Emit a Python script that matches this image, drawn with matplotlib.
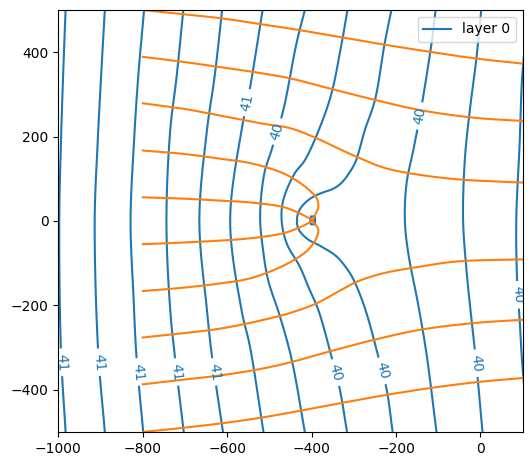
import numpy as np
import matplotlib
matplotlib.use("Agg")
import matplotlib.pyplot as plt
from matplotlib.contour import ContourSet
from matplotlib.lines import Line2D

# head contour lines, (x, y) from top to bottom
head_levels = [39.9, 40.0, 40.1, 40.2, 40.3, 40.4, 40.5, 40.6, 40.7, 40.8, 40.9, 41.0, 41.1]

well_loop = [(-403, 8), (-401, 11), (-394, 11), (-392, 8), (-392, -5), (-394, -8),
             (-401, -8), (-403, -5), (-403, 8)]
head_f = [(104, 400), (98.5, 334), (93, 184), (85, 2), (87, -140), (93, -234),
          (98.5, -329), (104, -395)]
head_e = [(2, 500), (-10, 381), (-25, 263), (-37, 144), (-41, 2), (-33, -116),
          (-21, -234), (-10, -336), (5, -500)]
head_d = [(-106, 500), (-116, 420), (-143, 251), (-159, 168), (-175, 89), (-179, 2),
          (-171, -76), (-148, -195), (-128, -313), (-104, -500)]
head_c = [(-211, 500), (-227, 420), (-250, 286), (-274, 215), (-287, 168), (-297, 138),
          (-317, 105), (-334, 86), (-352, 75), (-372, 68), (-395, 58), (-412, 46),
          (-427, 29), (-434, 10), (-432, -17), (-412, -41), (-376, -61), (-341, -84),
          (-309, -124), (-292, -158), (-270, -218), (-242, -321), (-222, -400),
          (-208, -500)]
head_b = [(-315, 500), (-329, 420), (-353, 302), (-380, 223), (-416, 144), (-440, 113),
          (-467, 50), (-471, 2), (-459, -53), (-428, -108), (-406, -160), (-384, -211),
          (-353, -321), (-333, -400), (-316, -500)]
head_a = [(-416, 500), (-436, 420), (-467, 263), (-495, 168), (-512, 113), (-522, 10),
          (-515, -69), (-503, -140), (-475, -226), (-447, -329), (-416, -500)]
head_6 = [(-516, 500), (-547, 310), (-566, 215), (-593, 0), (-566, -211), (-546, -298),
          (-514, -500)]
head_5 = [(-612, 500), (-630, 341), (-648, 215), (-666, 0), (-648, -211), (-636, -321),
          (-610, -500)]
head_4 = [(-704, 500), (-720, 341), (-735, 215), (-744, 0), (-735, -211), (-724, -321),
          (-703, -500)]
head_3 = [(-797, 500), (-811, 340), (-821, 185), (-829, 0), (-822, -180), (-815, -321),
          (-799, -500)]
head_2 = [(-890, 500), (-899, 340), (-907, 185), (-914, 0), (-906, -305), (-890, -500)]
head_1 = [(-983, 500), (-989, 340), (-994, 185), (-998, 0), (-994, -306), (-983, -500)]

head_lines = [well_loop, head_f, head_e, head_d, head_c, head_b, head_a,
              head_6, head_5, head_4, head_3, head_2, head_1]

# where the contour labels sit
label_xy = [(-546, 279), (-479, 211), (-144, 249),
            (-994, -335), (-906, -335), (-815, -358), (-722, -358), (-634, -358),
            (-350, -361), (-240, -357), (-10, -337), (88, -175)]

# particle pathlines, starting at x = -800
path_p500 = [(-800, 500), (-704, 490), (-612, 480), (-518, 466), (-451, 456), (-333, 436),
             (-222, 417), (-120, 401), (-10, 385), (100, 373)]
path_p389 = [(-800, 389), (-704, 377), (-612, 364), (-518, 350), (-451, 338), (-357, 314),
             (-254, 288), (-144, 263), (-17, 245), (100, 237)]
path_p278 = [(-800, 279), (-704, 266), (-612, 249), (-518, 231), (-451, 220), (-388, 196),
             (-333, 170), (-293, 152), (-231, 127), (-167, 113), (-57, 99), (100, 91)]
path_p167 = [(-800, 167), (-704, 159), (-612, 147), (-545, 137), (-467, 113), (-420, 85),
             (-397, 65), (-388, 54), (-384, 34), (-392, 14), (-398, 2)]
path_p56 = [(-800, 56), (-704, 53), (-612, 48), (-546, 44), (-467, 33), (-428, 18),
            (-398, 2)]
path_m56 = [(-800, -55), (-704, -51), (-610, -46), (-546, -41), (-467, -29), (-428, -15),
            (-398, 0)]
path_m167 = [(-800, -166), (-704, -158), (-610, -147), (-546, -136), (-467, -106),
             (-416, -75), (-397, -55), (-389, -41), (-384, -21), (-392, -7), (-398, 0)]
path_m278 = [(-800, -276), (-704, -266), (-610, -254), (-513, -234), (-451, -218),
             (-388, -195), (-333, -165), (-293, -144), (-231, -124), (-167, -112),
             (-57, -96), (100, -91)]
path_m389 = [(-800, -387), (-704, -376), (-610, -365), (-513, -349), (-451, -335),
             (-357, -309), (-254, -282), (-144, -258), (-17, -242), (100, -234)]
path_m500 = [(-800, -500), (-704, -490), (-610, -479), (-513, -465), (-451, -454),
             (-333, -432), (-222, -412), (-120, -396), (-10, -382), (100, -372)]

pathlines = [path_p500, path_p389, path_p278, path_p167, path_p56,
             path_m56, path_m167, path_m278, path_m389, path_m500]


def smooth(pts, n=12):
    # centripetal catmull-rom through the traced points, only for drawing
    p = np.asarray(pts, dtype=float)
    if len(p) < 3:
        return p
    ext = np.vstack([2 * p[0] - p[1], p, 2 * p[-1] - p[-2]])
    out = [p[0]]
    for i in range(1, len(ext) - 2):
        p0, p1, p2, p3 = ext[i - 1], ext[i], ext[i + 1], ext[i + 2]
        t0 = 0.0
        t1 = t0 + np.linalg.norm(p1 - p0) ** 0.5 + 1e-9
        t2 = t1 + np.linalg.norm(p2 - p1) ** 0.5 + 1e-9
        t3 = t2 + np.linalg.norm(p3 - p2) ** 0.5 + 1e-9
        for t in np.linspace(t1, t2, n + 1)[1:]:
            a1 = (t1 - t) / (t1 - t0) * p0 + (t - t0) / (t1 - t0) * p1
            a2 = (t2 - t) / (t2 - t1) * p1 + (t - t1) / (t2 - t1) * p2
            a3 = (t3 - t) / (t3 - t2) * p2 + (t - t2) / (t3 - t2) * p3
            b1 = (t2 - t) / (t2 - t0) * a1 + (t - t0) / (t2 - t0) * a2
            b2 = (t3 - t) / (t3 - t1) * a2 + (t - t1) / (t3 - t1) * a3
            out.append((t2 - t) / (t2 - t1) * b1 + (t - t1) / (t2 - t1) * b2)
    return np.array(out)


fig = plt.figure(figsize=(5.32, 4.66), dpi=100)
ax = fig.add_axes([58 / 532, 34 / 466, 465 / 532, 422 / 466])

allsegs = [[smooth(seg) if seg is not well_loop else np.array(seg, dtype=float)]
           for seg in head_lines]
cs = ContourSet(ax, head_levels, allsegs, colors="C0", linewidths=1.5)
cs.clabel(fmt="%1.0f", manual=label_xy, inline=True, fontsize=10)

for p in pathlines:
    s = smooth(p)
    ax.plot(s[:, 0], s[:, 1], color="C1", lw=1.5)

ax.set_xlim(-1000, 100)
ax.set_ylim(-500, 500)
ax.set_aspect("equal")
ax.legend([Line2D([], [], color="C0", lw=1.5)], ["layer 0"], loc="upper right")

fig.savefig("out.png", dpi=100)
